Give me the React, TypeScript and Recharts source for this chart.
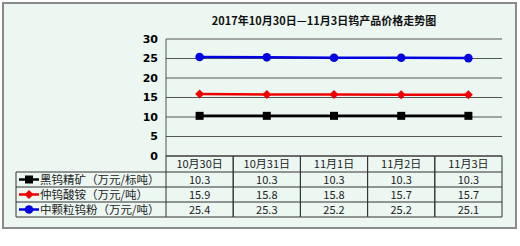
import React from 'react';
import { LineChart, Line, XAxis, YAxis, CartesianGrid } from 'recharts';

const categories = ['10月30日', '10月31日', '11月1日', '11月2日', '11月3日'];
const blackOre = [10.3, 10.3, 10.3, 10.3, 10.3];
const apt = [15.9, 15.8, 15.8, 15.7, 15.7];
const powder = [25.4, 25.3, 25.2, 25.2, 25.1];
const seriesNames = ['黑钨精矿（万元/标吨）', '仲钨酸铵（万元/吨）', '中颗粒钨粉（万元/吨）'];
const yTicks = [0, 5, 10, 15, 20, 25, 30];
const title = '2017年10月30日—11月3日钨产品价格走势图';

const seriesValues = [blackOre, apt, powder];
const seriesColors = ['#000000', '#ee0000', '#0000e0'];
const seriesKeys = ['black', 'apt', 'powder'];

const data = categories.map((c, i) => ({
  name: c,
  black: blackOre[i],
  apt: apt[i],
  powder: powder[i],
}));

const W = 520;
const H = 246;
const PLOT_LEFT = 166;
const PLOT_RIGHT = 502;
const PLOT_TOP = 39;
const X_AXIS_H = 90;
const PLOT_BOTTOM = H - X_AXIS_H;
const BAND = (PLOT_RIGHT - PLOT_LEFT) / categories.length;
const ROWS = [PLOT_BOTTOM, 172, 187, 202, 217];
const LEGEND_LEFT = 16;
const LINE_C = '#333';
const CJK = '"Noto Sans CJK SC", sans-serif';

function Marker({ kind, cx, cy, color }: any) {
  if (kind === 0) return <rect x={cx - 4} y={cy - 4} width={8} height={8} fill={color} />;
  if (kind === 1)
    return <polygon points={`${cx},${cy - 4.5} ${cx + 4.5},${cy} ${cx},${cy + 4.5} ${cx - 4.5},${cy}`} fill={color} />;
  return <circle cx={cx} cy={cy} r={4.3} fill={color} />;
}

function TableTick(props: any) {
  const { x, payload, index } = props;
  const left = x - BAND / 2;
  const right = x + BAND / 2;
  const els: any[] = [];
  ROWS.forEach((ry, i) => {
    els.push(<line key={'h' + i} x1={left} x2={right} y1={ry} y2={ry} stroke={LINE_C} strokeWidth={1} />);
  });
  els.push(<line key="vl" x1={left} x2={left} y1={ROWS[0]} y2={ROWS[4]} stroke={LINE_C} strokeWidth={1} />);
  els.push(<line key="vr" x1={right} x2={right} y1={ROWS[0]} y2={ROWS[4]} stroke={LINE_C} strokeWidth={1} />);
  els.push(
    <text key="hd" x={x} y={(ROWS[0] + ROWS[1]) / 2 + 4} textAnchor="middle" fontSize={11} fill="#222" fontFamily={CJK}>
      {payload.value}
    </text>
  );
  seriesValues.forEach((vals, s) => {
    els.push(
      <text key={'v' + s} x={x} y={(ROWS[s + 1] + ROWS[s + 2]) / 2 + 4} textAnchor="middle" fontSize={11} fill="#222" fontFamily={CJK}>
        {vals[index].toFixed(1)}
      </text>
    );
  });
  if (index === 0) {
    for (let i = 1; i < ROWS.length; i++) {
      els.push(<line key={'lh' + i} x1={LEGEND_LEFT} x2={left} y1={ROWS[i]} y2={ROWS[i]} stroke={LINE_C} strokeWidth={1} />);
    }
    els.push(<line key="lv" x1={LEGEND_LEFT} x2={LEGEND_LEFT} y1={ROWS[1]} y2={ROWS[4]} stroke={LINE_C} strokeWidth={1} />);
    seriesNames.forEach((nm, s) => {
      const cy = (ROWS[s + 1] + ROWS[s + 2]) / 2;
      els.push(
        <g key={'lg' + s}>
          <line x1={19} x2={39} y1={cy} y2={cy} stroke={seriesColors[s]} strokeWidth={2.5} />
          <Marker kind={s} cx={29} cy={cy} color={seriesColors[s]} />
          <text x={40} y={cy + 4} fontSize={11.5} fill="#222" fontFamily={CJK}>
            {nm}
          </text>
        </g>
      );
    });
  }
  return <g>{els}</g>;
}

export default function App() {
  return (
    <div style={{ position: 'absolute', left: 0, top: 0, width: W, height: H, background: '#fff' }}>
      <div
        style={{
          position: 'absolute',
          left: 2,
          top: 2,
          width: 511,
          height: 223,
          border: '2px solid #8a8a8a',
          background: '#ecf7f2',
        }}
      />
      <div
        style={{
          position: 'absolute',
          left: 0,
          top: 13,
          width: 648,
          textAlign: 'center',
          fontSize: 11,
          fontWeight: 'bold',
          fontFamily: CJK,
          color: '#111',
          lineHeight: '14px',
        }}
      >
        {title}
      </div>
      <div style={{ position: 'absolute', left: 0, top: 0 }}>
        <LineChart
          width={W}
          height={H}
          data={data}
          margin={{ top: PLOT_TOP, right: W - PLOT_RIGHT, bottom: 0, left: PLOT_LEFT - 30 }}
        >
          <CartesianGrid vertical={false} stroke="#555" strokeWidth={1} yAxisId="l" />
          <XAxis
            dataKey="name"
            height={X_AXIS_H}
            padding={{ left: BAND / 2, right: BAND / 2 }}
            axisLine={false}
            tickLine={false}
            interval={0}
            tick={<TableTick />}
          />
          <YAxis
            yAxisId="l"
            width={30}
            domain={[0, 30]}
            ticks={yTicks}
            interval={0}
            tickLine={false}
            axisLine={{ stroke: '#555' }}
            tick={{ fill: '#000', fontSize: 11, fontWeight: 'bold', fontFamily: 'DejaVu Sans' }}
          />
          <YAxis
            yAxisId="r"
            orientation="right"
            width={0}
            domain={[0, 30]}
            tick={false}
            tickLine={false}
            axisLine={{ stroke: '#555' }}
          />
          {seriesKeys.map((k, s) => (
            <Line
              key={k}
              yAxisId="l"
              dataKey={k}
              stroke={seriesColors[s]}
              strokeWidth={2.5}
              isAnimationActive={false}
              dot={(p: any) => <Marker key={k + p.index} kind={s} cx={p.cx} cy={p.cy} color={seriesColors[s]} />}
              activeDot={false}
            />
          ))}
        </LineChart>
      </div>
    </div>
  );
}
